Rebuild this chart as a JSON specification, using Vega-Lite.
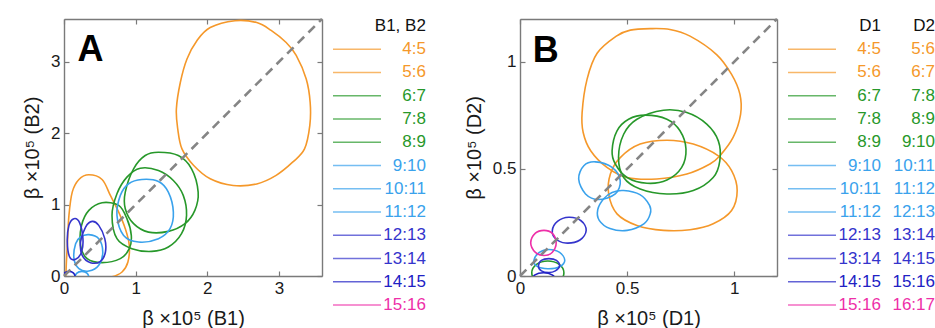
{
"$schema": "https://vega.github.io/schema/vega-lite/v6.json",
"padding": {"left": 22, "top": 13, "right": 0, "bottom": 0},
"config": {
  "font": "Liberation Sans",
  "view": {"stroke": null},
  "axis": {"grid": false, "domainColor": "#7a7a7a", "domainWidth": 1.4, "tickColor": "#7a7a7a", "tickWidth": 1.2, "tickSize": -5, "labelFontSize": 17, "labelColor": "#1a1a1a", "labelPadding": 9, "labelFlush": false, "labelOverlap": false, "labelBound": false, "titleFontSize": 20, "titleFontWeight": "normal", "titleColor": "#1a1a1a", "titlePadding": 8},
  "axisBottom": {"titlePadding": 12}
},
"datasets": {
  "contA": [
    {"c":"a1","s":"4:5","i":0,"x":2.385,"y":3.576},{"c":"a1","s":"4:5","i":1,"x":2.69,"y":3.55},{"c":"a1","s":"4:5","i":2,"x":2.89,"y":3.44},{"c":"a1","s":"4:5","i":3,"x":3.10,"y":3.27},{"c":"a1","s":"4:5","i":4,"x":3.24,"y":3.09},{"c":"a1","s":"4:5","i":5,"x":3.38,"y":2.76},{"c":"a1","s":"4:5","i":6,"x":3.435,"y":2.43},{"c":"a1","s":"4:5","i":7,"x":3.43,"y":2.11},{"c":"a1","s":"4:5","i":8,"x":3.356,"y":1.78},{"c":"a1","s":"4:5","i":9,"x":3.19,"y":1.594},{"c":"a1","s":"4:5","i":10,"x":2.96,"y":1.41},{"c":"a1","s":"4:5","i":11,"x":2.69,"y":1.29},{"c":"a1","s":"4:5","i":12,"x":2.36,"y":1.268},{"c":"a1","s":"4:5","i":13,"x":2.04,"y":1.362},{"c":"a1","s":"4:5","i":14,"x":1.81,"y":1.548},{"c":"a1","s":"4:5","i":15,"x":1.646,"y":1.78},{"c":"a1","s":"4:5","i":16,"x":1.587,"y":2.06},{"c":"a1","s":"4:5","i":17,"x":1.568,"y":2.34},{"c":"a1","s":"4:5","i":18,"x":1.623,"y":2.71},{"c":"a1","s":"4:5","i":19,"x":1.716,"y":3.04},{"c":"a1","s":"4:5","i":20,"x":1.854,"y":3.296},{"c":"a1","s":"4:5","i":21,"x":2.04,"y":3.48},
    {"c":"a2","s":"5:6","i":0,"x":0.347,"y":1.418},{"c":"a2","s":"5:6","i":1,"x":0.531,"y":1.352},{"c":"a2","s":"5:6","i":2,"x":0.647,"y":1.129},{"c":"a2","s":"5:6","i":3,"x":0.763,"y":0.895},{"c":"a2","s":"5:6","i":4,"x":0.855,"y":0.663},{"c":"a2","s":"5:6","i":5,"x":0.911,"y":0.429},{"c":"a2","s":"5:6","i":6,"x":0.892,"y":0.196},{"c":"a2","s":"5:6","i":7,"x":0.81,"y":0.056},{"c":"a2","s":"5:6","i":8,"x":0.67,"y":-0.01},{"c":"a2","s":"5:6","i":9,"x":0.45,"y":-0.03},{"c":"a2","s":"5:6","i":10,"x":0.2,"y":-0.03},{"c":"a2","s":"5:6","i":11,"x":0.04,"y":-0.02},{"c":"a2","s":"5:6","i":12,"x":0.03,"y":0.1},{"c":"a2","s":"5:6","i":13,"x":0.046,"y":0.429},{"c":"a2","s":"5:6","i":14,"x":0.069,"y":0.849},{"c":"a2","s":"5:6","i":15,"x":0.115,"y":1.175},{"c":"a2","s":"5:6","i":16,"x":0.208,"y":1.352},
    {"c":"a3","s":"6:7","i":0,"x":1.318,"y":1.734},{"c":"a3","s":"6:7","i":1,"x":1.595,"y":1.688},{"c":"a3","s":"6:7","i":2,"x":1.78,"y":1.502},{"c":"a3","s":"6:7","i":3,"x":1.872,"y":1.175},{"c":"a3","s":"6:7","i":4,"x":1.826,"y":0.919},{"c":"a3","s":"6:7","i":5,"x":1.688,"y":0.733},{"c":"a3","s":"6:7","i":6,"x":1.456,"y":0.625},{"c":"a3","s":"6:7","i":7,"x":1.179,"y":0.615},{"c":"a3","s":"6:7","i":8,"x":0.971,"y":0.733},{"c":"a3","s":"6:7","i":9,"x":0.855,"y":0.943},{"c":"a3","s":"6:7","i":10,"x":0.855,"y":1.175},{"c":"a3","s":"6:7","i":11,"x":0.971,"y":1.502},{"c":"a3","s":"6:7","i":12,"x":1.133,"y":1.688},
    {"c":"a4","s":"7:8","i":0,"x":1.064,"y":1.51},{"c":"a4","s":"7:8","i":1,"x":1.318,"y":1.478},{"c":"a4","s":"7:8","i":2,"x":1.526,"y":1.338},{"c":"a4","s":"7:8","i":3,"x":1.664,"y":1.129},{"c":"a4","s":"7:8","i":4,"x":1.71,"y":0.849},{"c":"a4","s":"7:8","i":5,"x":1.64,"y":0.593},{"c":"a4","s":"7:8","i":6,"x":1.456,"y":0.406},{"c":"a4","s":"7:8","i":7,"x":1.225,"y":0.345},{"c":"a4","s":"7:8","i":8,"x":0.947,"y":0.383},{"c":"a4","s":"7:8","i":9,"x":0.739,"y":0.523},{"c":"a4","s":"7:8","i":10,"x":0.67,"y":0.849},{"c":"a4","s":"7:8","i":11,"x":0.739,"y":1.152},{"c":"a4","s":"7:8","i":12,"x":0.878,"y":1.385},
    {"c":"a5","s":"8:9","i":0,"x":0.531,"y":1.027},{"c":"a5","s":"8:9","i":1,"x":0.763,"y":0.989},{"c":"a5","s":"8:9","i":2,"x":0.878,"y":0.803},{"c":"a5","s":"8:9","i":3,"x":0.939,"y":0.569},{"c":"a5","s":"8:9","i":4,"x":0.911,"y":0.383},{"c":"a5","s":"8:9","i":5,"x":0.786,"y":0.243},{"c":"a5","s":"8:9","i":6,"x":0.531,"y":0.187},{"c":"a5","s":"8:9","i":7,"x":0.323,"y":0.243},{"c":"a5","s":"8:9","i":8,"x":0.231,"y":0.429},{"c":"a5","s":"8:9","i":9,"x":0.245,"y":0.709},{"c":"a5","s":"8:9","i":10,"x":0.347,"y":0.919},
    {"c":"a6","s":"9:10","i":0,"x":1.086,"y":1.352},{"c":"a6","s":"9:10","i":1,"x":1.318,"y":1.324},{"c":"a6","s":"9:10","i":2,"x":1.456,"y":1.175},{"c":"a6","s":"9:10","i":3,"x":1.526,"y":0.895},{"c":"a6","s":"9:10","i":4,"x":1.48,"y":0.663},{"c":"a6","s":"9:10","i":5,"x":1.318,"y":0.523},{"c":"a6","s":"9:10","i":6,"x":1.04,"y":0.476},{"c":"a6","s":"9:10","i":7,"x":0.832,"y":0.569},{"c":"a6","s":"9:10","i":8,"x":0.739,"y":0.849},{"c":"a6","s":"9:10","i":9,"x":0.786,"y":1.129},{"c":"a6","s":"9:10","i":10,"x":0.902,"y":1.292},
    {"c":"a7","s":"10:11","i":0,"x":0.347,"y":0.579},{"c":"a7","s":"10:11","i":1,"x":0.485,"y":0.523},{"c":"a7","s":"10:11","i":2,"x":0.541,"y":0.336},{"c":"a7","s":"10:11","i":3,"x":0.485,"y":0.15},{"c":"a7","s":"10:11","i":4,"x":0.347,"y":0.07},{"c":"a7","s":"10:11","i":5,"x":0.208,"y":0.103},{"c":"a7","s":"10:11","i":6,"x":0.139,"y":0.243},{"c":"a7","s":"10:11","i":7,"x":0.162,"y":0.453},{"c":"a7","s":"10:11","i":8,"x":0.231,"y":0.546},
    {"c":"a8","s":"11:12","i":0,"x":0.25,"y":0.065},{"c":"a8","s":"11:12","i":1,"x":0.32,"y":0.04},{"c":"a8","s":"11:12","i":2,"x":0.35,"y":-0.04},{"c":"a8","s":"11:12","i":3,"x":0.32,"y":-0.12},{"c":"a8","s":"11:12","i":4,"x":0.25,"y":-0.15},{"c":"a8","s":"11:12","i":5,"x":0.18,"y":-0.12},{"c":"a8","s":"11:12","i":6,"x":0.15,"y":-0.04},{"c":"a8","s":"11:12","i":7,"x":0.18,"y":0.04},
    {"c":"a9","s":"12:13","i":0,"x":0.393,"y":0.765},{"c":"a9","s":"12:13","i":1,"x":0.485,"y":0.709},{"c":"a9","s":"12:13","i":2,"x":0.569,"y":0.523},{"c":"a9","s":"12:13","i":3,"x":0.578,"y":0.336},{"c":"a9","s":"12:13","i":4,"x":0.509,"y":0.206},{"c":"a9","s":"12:13","i":5,"x":0.37,"y":0.187},{"c":"a9","s":"12:13","i":6,"x":0.254,"y":0.29},{"c":"a9","s":"12:13","i":7,"x":0.231,"y":0.476},{"c":"a9","s":"12:13","i":8,"x":0.301,"y":0.686},
    {"c":"a10","s":"13:14","i":0,"x":0.139,"y":0.803},{"c":"a10","s":"13:14","i":1,"x":0.217,"y":0.747},{"c":"a10","s":"13:14","i":2,"x":0.264,"y":0.523},{"c":"a10","s":"13:14","i":3,"x":0.245,"y":0.336},{"c":"a10","s":"13:14","i":4,"x":0.162,"y":0.234},{"c":"a10","s":"13:14","i":5,"x":0.079,"y":0.266},{"c":"a10","s":"13:14","i":6,"x":0.046,"y":0.476},{"c":"a10","s":"13:14","i":7,"x":0.069,"y":0.709},
    {"c":"a11","s":"14:15","i":0,"x":0.07,"y":0.065},{"c":"a11","s":"14:15","i":1,"x":0.13,"y":0.045},{"c":"a11","s":"14:15","i":2,"x":0.155,"y":-0.01},{"c":"a11","s":"14:15","i":3,"x":0.13,"y":-0.06},{"c":"a11","s":"14:15","i":4,"x":0.07,"y":-0.085},{"c":"a11","s":"14:15","i":5,"x":0.01,"y":-0.06},{"c":"a11","s":"14:15","i":6,"x":-0.015,"y":-0.01},{"c":"a11","s":"14:15","i":7,"x":0.01,"y":0.045}
  ],
  "contB": [
    {"c":"b1","s":"4:5","i":0,"x":0.608,"y":1.155},{"c":"b1","s":"4:5","i":1,"x":0.70,"y":1.151},{"c":"b1","s":"4:5","i":2,"x":0.794,"y":1.12},{"c":"b1","s":"4:5","i":3,"x":0.918,"y":1.034},{"c":"b1","s":"4:5","i":4,"x":0.988,"y":0.941},{"c":"b1","s":"4:5","i":5,"x":1.027,"y":0.848},{"c":"b1","s":"4:5","i":6,"x":1.03,"y":0.755},{"c":"b1","s":"4:5","i":7,"x":0.995,"y":0.647},{"c":"b1","s":"4:5","i":8,"x":0.933,"y":0.561},{"c":"b1","s":"4:5","i":9,"x":0.887,"y":0.523},{"c":"b1","s":"4:5","i":10,"x":0.779,"y":0.476},{"c":"b1","s":"4:5","i":11,"x":0.639,"y":0.453},{"c":"b1","s":"4:5","i":12,"x":0.5,"y":0.46},{"c":"b1","s":"4:5","i":13,"x":0.406,"y":0.507},{"c":"b1","s":"4:5","i":14,"x":0.33,"y":0.585},{"c":"b1","s":"4:5","i":15,"x":0.295,"y":0.67},{"c":"b1","s":"4:5","i":16,"x":0.29,"y":0.763},{"c":"b1","s":"4:5","i":17,"x":0.313,"y":0.918},{"c":"b1","s":"4:5","i":18,"x":0.36,"y":1.04},{"c":"b1","s":"4:5","i":19,"x":0.45,"y":1.12},{"c":"b1","s":"4:5","i":20,"x":0.515,"y":1.148},
    {"c":"b2","s":"5:6","i":0,"x":0.686,"y":0.634},{"c":"b2","s":"5:6","i":1,"x":0.809,"y":0.616},{"c":"b2","s":"5:6","i":2,"x":0.926,"y":0.561},{"c":"b2","s":"5:6","i":3,"x":0.988,"y":0.492},{"c":"b2","s":"5:6","i":4,"x":1.014,"y":0.399},{"c":"b2","s":"5:6","i":5,"x":0.988,"y":0.306},{"c":"b2","s":"5:6","i":6,"x":0.902,"y":0.244},{"c":"b2","s":"5:6","i":7,"x":0.794,"y":0.216},{"c":"b2","s":"5:6","i":8,"x":0.67,"y":0.213},{"c":"b2","s":"5:6","i":9,"x":0.546,"y":0.236},{"c":"b2","s":"5:6","i":10,"x":0.453,"y":0.29},{"c":"b2","s":"5:6","i":11,"x":0.414,"y":0.383},{"c":"b2","s":"5:6","i":12,"x":0.422,"y":0.476},{"c":"b2","s":"5:6","i":13,"x":0.468,"y":0.553},{"c":"b2","s":"5:6","i":14,"x":0.561,"y":0.616},
    {"c":"b3","s":"6:7","i":0,"x":0.585,"y":0.751},{"c":"b3","s":"6:7","i":1,"x":0.686,"y":0.732},{"c":"b3","s":"6:7","i":2,"x":0.747,"y":0.678},{"c":"b3","s":"6:7","i":3,"x":0.775,"y":0.593},{"c":"b3","s":"6:7","i":4,"x":0.755,"y":0.507},{"c":"b3","s":"6:7","i":5,"x":0.686,"y":0.448},{"c":"b3","s":"6:7","i":6,"x":0.593,"y":0.433},{"c":"b3","s":"6:7","i":7,"x":0.5,"y":0.46},{"c":"b3","s":"6:7","i":8,"x":0.445,"y":0.523},{"c":"b3","s":"6:7","i":9,"x":0.43,"y":0.585},{"c":"b3","s":"6:7","i":10,"x":0.453,"y":0.678},{"c":"b3","s":"6:7","i":11,"x":0.507,"y":0.732},
    {"c":"b4","s":"7:8","i":0,"x":0.67,"y":0.774},{"c":"b4","s":"7:8","i":1,"x":0.779,"y":0.763},{"c":"b4","s":"7:8","i":2,"x":0.872,"y":0.709},{"c":"b4","s":"7:8","i":3,"x":0.926,"y":0.631},{"c":"b4","s":"7:8","i":4,"x":0.933,"y":0.538},{"c":"b4","s":"7:8","i":5,"x":0.902,"y":0.46},{"c":"b4","s":"7:8","i":6,"x":0.809,"y":0.399},{"c":"b4","s":"7:8","i":7,"x":0.686,"y":0.383},{"c":"b4","s":"7:8","i":8,"x":0.561,"y":0.406},{"c":"b4","s":"7:8","i":9,"x":0.484,"y":0.46},{"c":"b4","s":"7:8","i":10,"x":0.46,"y":0.553},{"c":"b4","s":"7:8","i":11,"x":0.484,"y":0.662},{"c":"b4","s":"7:8","i":12,"x":0.546,"y":0.732},
    {"c":"b5","s":"8:9","i":0,"x":0.13,"y":0.07},{"c":"b5","s":"8:9","i":1,"x":0.183,"y":0.054},{"c":"b5","s":"8:9","i":2,"x":0.205,"y":0.015},{"c":"b5","s":"8:9","i":3,"x":0.183,"y":-0.024},{"c":"b5","s":"8:9","i":4,"x":0.13,"y":-0.04},{"c":"b5","s":"8:9","i":5,"x":0.077,"y":-0.024},{"c":"b5","s":"8:9","i":6,"x":0.055,"y":0.015},{"c":"b5","s":"8:9","i":7,"x":0.077,"y":0.054},
    {"c":"b6","s":"9:10","i":0,"x":0.352,"y":0.533},{"c":"b6","s":"9:10","i":1,"x":0.43,"y":0.507},{"c":"b6","s":"9:10","i":2,"x":0.468,"y":0.445},{"c":"b6","s":"9:10","i":3,"x":0.445,"y":0.383},{"c":"b6","s":"9:10","i":4,"x":0.367,"y":0.357},{"c":"b6","s":"9:10","i":5,"x":0.306,"y":0.383},{"c":"b6","s":"9:10","i":6,"x":0.274,"y":0.453},{"c":"b6","s":"9:10","i":7,"x":0.298,"y":0.515},
    {"c":"b7","s":"10:11","i":0,"x":0.484,"y":0.399},{"c":"b7","s":"10:11","i":1,"x":0.56,"y":0.38},{"c":"b7","s":"10:11","i":2,"x":0.605,"y":0.33},{"c":"b7","s":"10:11","i":3,"x":0.608,"y":0.29},{"c":"b7","s":"10:11","i":4,"x":0.58,"y":0.245},{"c":"b7","s":"10:11","i":5,"x":0.5,"y":0.213},{"c":"b7","s":"10:11","i":6,"x":0.42,"y":0.222},{"c":"b7","s":"10:11","i":7,"x":0.37,"y":0.26},{"c":"b7","s":"10:11","i":8,"x":0.363,"y":0.31},{"c":"b7","s":"10:11","i":9,"x":0.39,"y":0.36},{"c":"b7","s":"10:11","i":10,"x":0.43,"y":0.39},
    {"c":"b8","s":"11:12","i":0,"x":0.135,"y":0.124},{"c":"b8","s":"11:12","i":1,"x":0.185,"y":0.11},{"c":"b8","s":"11:12","i":2,"x":0.209,"y":0.073},{"c":"b8","s":"11:12","i":3,"x":0.185,"y":0.043},{"c":"b8","s":"11:12","i":4,"x":0.13,"y":0.034},{"c":"b8","s":"11:12","i":5,"x":0.08,"y":0.045},{"c":"b8","s":"11:12","i":6,"x":0.065,"y":0.073},{"c":"b8","s":"11:12","i":7,"x":0.09,"y":0.11},
    {"c":"b9","s":"12:13","i":0,"x":0.228,"y":0.274},{"c":"b9","s":"12:13","i":1,"x":0.285,"y":0.258},{"c":"b9","s":"12:13","i":2,"x":0.309,"y":0.213},{"c":"b9","s":"12:13","i":3,"x":0.28,"y":0.168},{"c":"b9","s":"12:13","i":4,"x":0.213,"y":0.154},{"c":"b9","s":"12:13","i":5,"x":0.165,"y":0.175},{"c":"b9","s":"12:13","i":6,"x":0.151,"y":0.213},{"c":"b9","s":"12:13","i":7,"x":0.175,"y":0.255},
    {"c":"b10","s":"13:14","i":0,"x":0.135,"y":0.081},{"c":"b10","s":"13:14","i":1,"x":0.17,"y":0.073},{"c":"b10","s":"13:14","i":2,"x":0.185,"y":0.047},{"c":"b10","s":"13:14","i":3,"x":0.165,"y":0.024},{"c":"b10","s":"13:14","i":4,"x":0.135,"y":0.016},{"c":"b10","s":"13:14","i":5,"x":0.1,"y":0.024},{"c":"b10","s":"13:14","i":6,"x":0.086,"y":0.047},{"c":"b10","s":"13:14","i":7,"x":0.1,"y":0.073},
    {"c":"b11","s":"14:15","i":0,"x":0.11,"y":0.015},{"c":"b11","s":"14:15","i":1,"x":0.15,"y":0.005},{"c":"b11","s":"14:15","i":2,"x":0.165,"y":-0.02},{"c":"b11","s":"14:15","i":3,"x":0.11,"y":-0.04},{"c":"b11","s":"14:15","i":4,"x":0.06,"y":-0.02},{"c":"b11","s":"14:15","i":5,"x":0.07,"y":0.005},
    {"c":"b12","s":"15:16","i":0,"x":0.112,"y":0.213},{"c":"b12","s":"15:16","i":1,"x":0.15,"y":0.2},{"c":"b12","s":"15:16","i":2,"x":0.169,"y":0.155},{"c":"b12","s":"15:16","i":3,"x":0.15,"y":0.11},{"c":"b12","s":"15:16","i":4,"x":0.112,"y":0.096},{"c":"b12","s":"15:16","i":5,"x":0.072,"y":0.11},{"c":"b12","s":"15:16","i":6,"x":0.05,"y":0.155},{"c":"b12","s":"15:16","i":7,"x":0.072,"y":0.2}
  ],
  "legA": [
    {"r":0,"col":"L","t":"B1, B2","s":"hdr"},
    {"r":1,"col":"L","t":"4:5","s":"4:5"},{"r":2,"col":"L","t":"5:6","s":"5:6"},{"r":3,"col":"L","t":"6:7","s":"6:7"},{"r":4,"col":"L","t":"7:8","s":"7:8"},{"r":5,"col":"L","t":"8:9","s":"8:9"},{"r":6,"col":"L","t":"9:10","s":"9:10"},{"r":7,"col":"L","t":"10:11","s":"10:11"},{"r":8,"col":"L","t":"11:12","s":"11:12"},{"r":9,"col":"L","t":"12:13","s":"12:13"},{"r":10,"col":"L","t":"13:14","s":"13:14"},{"r":11,"col":"L","t":"14:15","s":"14:15"},{"r":12,"col":"L","t":"15:16","s":"15:16"}
  ],
  "legB": [
    {"r":0,"col":"D1","t":"D1","s":"hdr"},{"r":0,"col":"D2","t":"D2","s":"hdr"},
    {"r":1,"col":"D1","t":"4:5","s":"4:5"},{"r":1,"col":"D2","t":"5:6","s":"4:5"},
    {"r":2,"col":"D1","t":"5:6","s":"5:6"},{"r":2,"col":"D2","t":"6:7","s":"5:6"},
    {"r":3,"col":"D1","t":"6:7","s":"6:7"},{"r":3,"col":"D2","t":"7:8","s":"6:7"},
    {"r":4,"col":"D1","t":"7:8","s":"7:8"},{"r":4,"col":"D2","t":"8:9","s":"7:8"},
    {"r":5,"col":"D1","t":"8:9","s":"8:9"},{"r":5,"col":"D2","t":"9:10","s":"8:9"},
    {"r":6,"col":"D1","t":"9:10","s":"9:10"},{"r":6,"col":"D2","t":"10:11","s":"9:10"},
    {"r":7,"col":"D1","t":"10:11","s":"10:11"},{"r":7,"col":"D2","t":"11:12","s":"10:11"},
    {"r":8,"col":"D1","t":"11:12","s":"11:12"},{"r":8,"col":"D2","t":"12:13","s":"11:12"},
    {"r":9,"col":"D1","t":"12:13","s":"12:13"},{"r":9,"col":"D2","t":"13:14","s":"12:13"},
    {"r":10,"col":"D1","t":"13:14","s":"13:14"},{"r":10,"col":"D2","t":"14:15","s":"13:14"},
    {"r":11,"col":"D1","t":"14:15","s":"14:15"},{"r":11,"col":"D2","t":"15:16","s":"14:15"},
    {"r":12,"col":"D1","t":"15:16","s":"15:16"},{"r":12,"col":"D2","t":"16:17","s":"15:16"}
  ]
},
"spacing": 50,
"bounds": "flush",
"hconcat": [
  {
    "width": 258, "height": 257,
    "layer": [
      {
        "data": {"name": "contA"},
        "mark": {"type": "line", "interpolate": "cardinal-closed", "strokeWidth": 1.6, "clip": true},
        "encoding": {
          "x": {"field": "x", "type": "quantitative", "scale": {"domain": [0, 3.6], "nice": false, "zero": false}, "axis": {"orient": "bottom", "values": [0, 1, 2, 3], "title": "β ×10⁵  (B1)"}},
          "y": {"field": "y", "type": "quantitative", "scale": {"domain": [0, 3.6], "nice": false, "zero": false}, "axis": {"orient": "left", "values": [0, 1, 2, 3], "title": "β ×10⁵  (B2)"}},
          "color": {"field": "s", "type": "nominal", "legend": null, "scale": {"domain": ["hdr","4:5","5:6","6:7","7:8","8:9","9:10","10:11","11:12","12:13","13:14","14:15","15:16"], "range": ["#111111","#f5982a","#f5982a","#27982a","#27982a","#27982a","#3aa2ec","#3aa2ec","#3aa2ec","#3434cc","#3434cc","#2121c4","#ee2fa8"]}},
          "detail": {"field": "c"},
          "order": {"field": "i", "type": "quantitative"}
        }
      },
      {
        "data": {"values": [{"x": 0, "y": 0}, {"x": 3.6, "y": 3.6}]},
        "mark": {"type": "line", "color": "#858585", "strokeWidth": 2.6, "strokeDash": [9, 6]},
        "encoding": {
          "x": {"field": "x", "type": "quantitative", "axis": {"orient": "top", "values": [0, 1, 2, 3], "labels": false, "title": null}},
          "y": {"field": "y", "type": "quantitative", "axis": {"orient": "right", "values": [0, 1, 2, 3], "labels": false, "title": null}}
        }
      },
      {
        "data": {"values": [{"t": "A", "x": 0.37, "y": 3.17}]},
        "mark": {"type": "text", "fontSize": 36, "fontWeight": "bold", "color": "#000000", "baseline": "middle", "align": "center"},
        "encoding": {
          "x": {"field": "x", "type": "quantitative", "axis": null},
          "y": {"field": "y", "type": "quantitative", "axis": null},
          "text": {"field": "t"}
        }
      }
    ],
    "resolve": {"axis": {"x": "independent", "y": "independent"}}
  },
  {
    "width": 98, "height": 300,
    "data": {"name": "legA"},
    "layer": [
      {
        "transform": [{"filter": "datum.r > 0"}],
        "mark": {"type": "tick", "orient": "horizontal", "size": 48, "thickness": 1.6, "xOffset": -15},
        "encoding": {
          "x": {"datum": "sw", "type": "nominal", "scale": {"type": "point", "domain": ["sw", "L"], "padding": 0.41, "align": 0}, "axis": null},
          "y": {"field": "r", "type": "quantitative", "scale": {"domain": [-0.3, 12.6], "reverse": true, "nice": false, "zero": false}, "axis": null},
          "color": {"field": "s", "type": "nominal", "legend": null, "scale": {"domain": ["hdr","4:5","5:6","6:7","7:8","8:9","9:10","10:11","11:12","12:13","13:14","14:15","15:16"], "range": ["#111111","#f5982a","#f5982a","#27982a","#27982a","#27982a","#3aa2ec","#3aa2ec","#3aa2ec","#3434cc","#3434cc","#2121c4","#ee2fa8"]}}
        }
      },
      {
        "mark": {"type": "text", "align": "right", "baseline": "middle", "fontSize": 17},
        "encoding": {
          "x": {"field": "col", "type": "nominal", "axis": null},
          "y": {"field": "r", "type": "quantitative", "axis": null},
          "text": {"field": "t"},
          "color": {"field": "s", "type": "nominal", "legend": null}
        }
      }
    ]
  },
  {
    "width": 257, "height": 257,
    "layer": [
      {
        "data": {"name": "contB"},
        "mark": {"type": "line", "interpolate": "cardinal-closed", "strokeWidth": 1.6, "clip": true},
        "encoding": {
          "x": {"field": "x", "type": "quantitative", "scale": {"domain": [0, 1.2], "nice": false, "zero": false}, "axis": {"orient": "bottom", "values": [0, 0.5, 1], "format": "~g", "title": "β ×10⁵  (D1)"}},
          "y": {"field": "y", "type": "quantitative", "scale": {"domain": [0, 1.2], "nice": false, "zero": false}, "axis": {"orient": "left", "values": [0, 0.5, 1], "format": "~g", "title": "β ×10⁵  (D2)"}},
          "color": {"field": "s", "type": "nominal", "legend": null},
          "detail": {"field": "c"},
          "order": {"field": "i", "type": "quantitative"}
        }
      },
      {
        "data": {"values": [{"x": 0, "y": 0}, {"x": 1.2, "y": 1.2}]},
        "mark": {"type": "line", "color": "#858585", "strokeWidth": 2.6, "strokeDash": [9, 6]},
        "encoding": {
          "x": {"field": "x", "type": "quantitative", "axis": {"orient": "top", "values": [0, 0.5, 1], "labels": false, "title": null}},
          "y": {"field": "y", "type": "quantitative", "axis": {"orient": "right", "values": [0, 0.5, 1], "labels": false, "title": null}}
        }
      },
      {
        "data": {"values": [{"t": "B", "x": 0.12, "y": 1.052}]},
        "mark": {"type": "text", "fontSize": 36, "fontWeight": "bold", "color": "#000000", "baseline": "middle", "align": "center"},
        "encoding": {
          "x": {"field": "x", "type": "quantitative", "axis": null},
          "y": {"field": "y", "type": "quantitative", "axis": null},
          "text": {"field": "t"}
        }
      }
    ],
    "resolve": {"axis": {"x": "independent", "y": "independent"}}
  },
  {
    "width": 108, "height": 300,
    "data": {"name": "legB"},
    "layer": [
      {
        "transform": [{"filter": "datum.r > 0 && datum.col == 'D1'"}],
        "mark": {"type": "tick", "orient": "horizontal", "size": 48, "thickness": 1.6, "xOffset": -15},
        "encoding": {
          "x": {"datum": "sw", "type": "nominal", "scale": {"type": "point", "domain": ["sw", "D1", "D2"], "padding": 0}, "axis": null},
          "y": {"field": "r", "type": "quantitative", "scale": {"domain": [-0.3, 12.6], "reverse": true, "nice": false, "zero": false}, "axis": null},
          "color": {"field": "s", "type": "nominal", "legend": null}
        }
      },
      {
        "mark": {"type": "text", "align": "right", "baseline": "middle", "fontSize": 17},
        "encoding": {
          "x": {"field": "col", "type": "nominal", "axis": null},
          "y": {"field": "r", "type": "quantitative", "axis": null},
          "text": {"field": "t"},
          "color": {"field": "s", "type": "nominal", "legend": null}
        }
      }
    ]
  }
]
}
